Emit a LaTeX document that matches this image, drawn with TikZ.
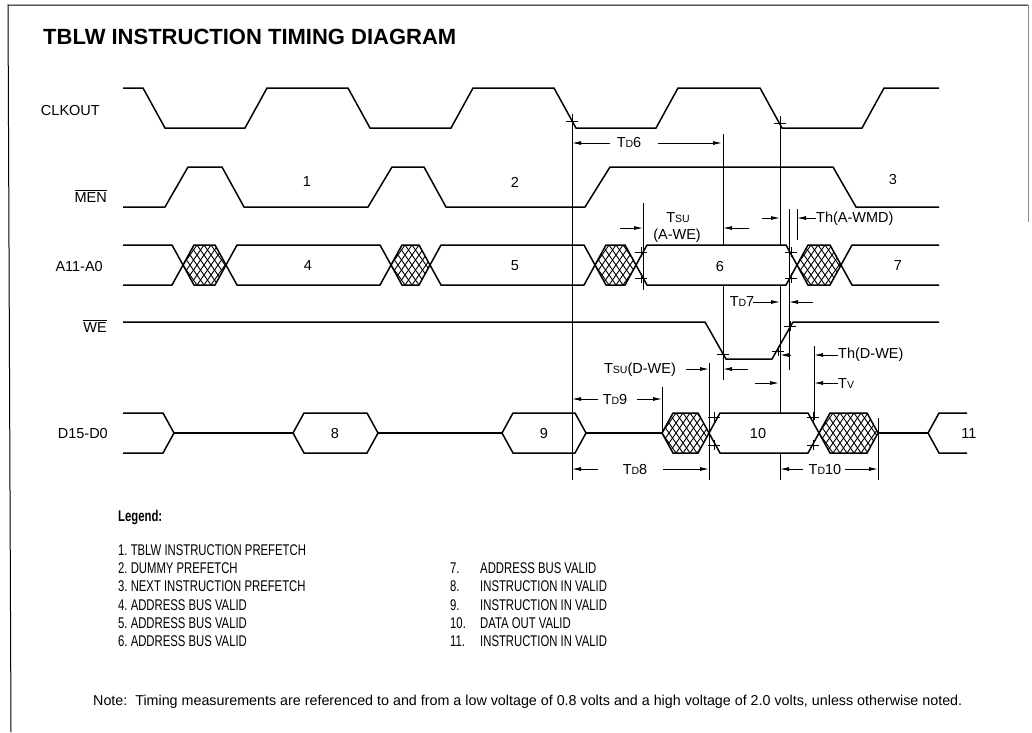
\documentclass[tikz,border=0pt]{standalone}
\usepackage{fontspec}
\setmainfont{Liberation Sans}
\newfontfamily\legfont[FakeStretch=0.73]{Liberation Sans}
\usetikzlibrary{arrows.meta}
\newcommand{\sub}[1]{{\fontsize{10.5}{11}\selectfont #1}}
% bus hexagon: left point, right point, top, bottom
\newcommand{\bushex}[4]{\draw[wave] (#1,{(#3+#4)/2}) -- ({#1+11},#3) -- ({#2-11},#3) -- (#2,{(#3+#4)/2}) -- ({#2-11},#4) -- ({#1+11},#4) -- cycle;}
% invalid (cross hatched) hexagon
\newcommand{\hatchhex}[4]{%
  \begin{scope}
    \clip (#1,{(#3+#4)/2}) -- ({#1+11},#3) -- ({#2-11},#3) -- (#2,{(#3+#4)/2}) -- ({#2-11},#4) -- ({#1+11},#4) -- cycle;
    \foreach \s in {0,7,...,98} {
      \draw[hatch] ({#1-28+\s},#3) -- ++(28,40);
      \draw[hatch] ({#1-28+\s},#4) -- ++(28,-40);
    }
  \end{scope}
  \bushex{#1}{#2}{#3}{#4}}
% crossing mark
\newcommand{\tickat}[2]{\draw[thin] ({#1-6},#2) -- ({#1+6},#2) ({#1},{#2-5}) -- ({#1},{#2+5});}

\begin{document}
\begin{tikzpicture}[x=1pt,y=-1pt,
    wave/.style={line width=1.5pt,line join=miter},
    thin/.style={line width=0.8pt},
    hatch/.style={line width=0.9pt},
    dim/.style={line width=0.9pt,-{Latex[length=9pt,width=4pt]}},
    lbl/.style={font=\fontsize{14.5}{16}\selectfont,inner sep=0pt},
    leg/.style={font=\legfont\fontsize{15.5}{18}\selectfont,inner sep=0pt,anchor=base west}]
\useasboundingbox (0,0) rectangle (1032,732);
% frame
\draw[line width=1pt] (11,732) -- (8,5) -- (1028,5);
\draw[line width=0.8pt,black!45] (1028,5) -- (1028,222);
\node[anchor=west,inner sep=0pt,font=\bfseries\fontsize{22}{24}\selectfont] (title) at (43,37) {TBLW INSTRUCTION TIMING DIAGRAM};

% signal names
\node[lbl,anchor=base east] (nclk) at (100,115.5) {CLKOUT};
\node[lbl,anchor=base east] (nmen) at (107,202) {$\overline{\mbox{MEN}}$};
\node[lbl,anchor=base east] (nadr) at (103,271) {A11-A0};
\node[lbl,anchor=base east] (nwe) at (107,332) {$\overline{\mbox{WE}}$};
\node[lbl,anchor=base east] (ndat) at (108,438.5) {D15-D0};

% reference lines
\draw[thin] (572,114) -- (572,480);
\draw[thin] (723,134) -- (723,245) (723,285) -- (723,380);
\draw[thin] (780,116) -- (780,245) (780,285) -- (780,413) (780,453) -- (780,480);
\draw[thin] (789,209) -- (789,370);
\draw[thin] (797,209) -- (797,240);
\draw[thin] (643,203) -- (643,290);
\draw[thin] (709,363) -- (709,480);
\draw[thin] (814,346) -- (814,420);
\draw[thin] (878,418) -- (878,480);
\draw[thin] (662,387) -- (662,433);

% CLKOUT
\draw[wave] (123,88) -- (143,88) -- (165,128) -- (245,128) -- (267,88) -- (348,88) -- (370,128) -- (451,128) -- (473,88) -- (554,88) -- (576,128) -- (656,128) -- (678,88) -- (760,88) -- (782,128) -- (862,128) -- (884,88) -- (939,88);
\tickat{572}{121}
\tickat{780}{123}

% MEN
\draw[wave] (123,207) -- (165,207) -- (188,167) -- (222,167) -- (244,207) -- (368,207) -- (392,167) -- (424,167) -- (446,207) -- (585,207) -- (610,167) -- (833,167) -- (856,207) -- (939,207);
\node[lbl] (m1) at (307,182) {1};
\node[lbl] (m2) at (515,182) {2};
\node[lbl] (m3) at (893,180) {3};

% A11-A0
\draw[wave] (123,245) -- (172,245) -- (183,265) -- (172,285) -- (123,285);
\hatchhex{183}{226}{245}{285}
\bushex{226}{391}{245}{285}
\hatchhex{391}{430}{245}{285}
\bushex{430}{595}{245}{285}
\hatchhex{595}{636}{245}{285}
\bushex{636}{797}{245}{285}
\hatchhex{797}{841}{245}{285}
\draw[wave] (939,245) -- (852,245) -- (841,265) -- (852,285) -- (939,285);
\node[lbl] (a4) at (308,266) {4};
\node[lbl] (a5) at (515,266) {5};
\node[lbl] (a6) at (720,266) {6};
\node[lbl] (a7) at (898,266) {7};
\tickat{641}{252}
\tickat{641}{278}
\tickat{791}{252}
\tickat{791}{278}

% WE
\draw[wave] (123,322) -- (705,322) -- (726,359) -- (772,359) -- (793,322) -- (939,322);
\tickat{723}{354}
\tickat{778}{351}
\tickat{790}{326}

% D15-D0
\draw[wave] (123,413) -- (163,413) -- (174,433) -- (163,453) -- (123,453);
\draw[wave] (174,433) -- (293,433) (378,433) -- (502,433) (586,433) -- (662,433) (878,433) -- (928,433);
\bushex{293}{378}{413}{453}
\bushex{502}{586}{413}{453}
\hatchhex{662}{709}{413}{453}
\bushex{709}{819}{413}{453}
\hatchhex{819}{878}{413}{453}
\draw[wave] (967,413) -- (939,413) -- (928,433) -- (939,453) -- (967,453);
\node[lbl] (d8) at (335,433) {8};
\node[lbl] (d9) at (544,433) {9};
\node[lbl] (d10) at (758,433) {10};
\node[lbl] (d11) at (969,433) {11};
\tickat{714}{417}
\tickat{714}{445}
\tickat{813}{417}
\tickat{813}{445}

% timing labels
\draw[dim] (610,143) -- (572,143);
\node[lbl] (td6) at (629,143) {T\sub{D}6};
\draw[dim] (658,143) -- (722,143);

\draw[dim] (620,228) -- (643,228);
\node[lbl] (tsua) at (678,218) {T\sub{SU}};
\node[lbl] (tsub) at (677,236) {(A-WE)};
\draw[dim] (749,228) -- (723,228);

\draw[dim] (762,218) -- (780,218);
\draw[dim] (816,218) -- (797,218);
\node[lbl,anchor=west] (tha) at (816,219) {Th(A-WMD)};

\node[lbl] (td7) at (742,302) {T\sub{D}7};
\draw[dim] (753,302) -- (780,302);
\draw[dim] (813,302) -- (789,302);

\node[lbl] (tsud) at (640,370) {T\sub{SU}(D-WE)};
\draw[dim] (686,369) -- (709,369);
\draw[dim] (748,369) -- (723,369);

\draw[dim] (791,355) -- (780,355);
\draw[dim] (838,355) -- (814,355);
\node[lbl,anchor=west] (thd) at (838,355) {Th(D-WE)};

\draw[dim] (755,383) -- (779,383);
\draw[dim] (838,383) -- (814,383);
\node[lbl,anchor=west] (tv) at (838,384) {T\sub{V}};

\draw[dim] (598,399) -- (572,399);
\node[lbl] (td9) at (615,399) {T\sub{D}9};
\draw[dim] (637,399) -- (662,399);

\draw[dim] (598,469) -- (572,469);
\node[lbl] (td8) at (635,469) {T\sub{D}8};
\draw[dim] (663,469) -- (709,469);

\draw[dim] (803,469) -- (780,469);
\node[lbl] (td10) at (825,469) {T\sub{D}10};
\draw[dim] (845,469) -- (878,469);

% legend
\node[leg,font=\legfont\bfseries\fontsize{15.5}{18}\selectfont] (legend) at (118,521.5) {Legend:};
\node[leg] (l1) at (118,555.5) {1.\ TBLW INSTRUCTION PREFETCH};
\node[leg] (l2) at (118,573.7) {2.\ DUMMY PREFETCH};
\node[leg] (l3) at (118,591.9) {3.\ NEXT INSTRUCTION PREFETCH};
\node[leg] (l4) at (118,610.1) {4.\ ADDRESS BUS VALID};
\node[leg] (l5) at (118,628.3) {5.\ ADDRESS BUS VALID};
\node[leg] (l6) at (118,646.5) {6.\ ADDRESS BUS VALID};
\foreach \n/\t [count=\i] in {7/ADDRESS BUS VALID,8/INSTRUCTION IN VALID,9/INSTRUCTION IN VALID,10/DATA OUT VALID,11/INSTRUCTION IN VALID} {
  \node[leg] (k\n) at (450,{555.5+18.2*\i}) {\n.};
  \node[leg] (r\n) at (480,{555.5+18.2*\i}) {\t};
}
\node[leg,font=\fontsize{14.3}{16}\selectfont] (note) at (93,705) {Note:\ \ Timing measurements are referenced to and from a low voltage of 0.8 volts and a high voltage of 2.0 volts, unless otherwise noted.};
\end{tikzpicture}
\end{document}
